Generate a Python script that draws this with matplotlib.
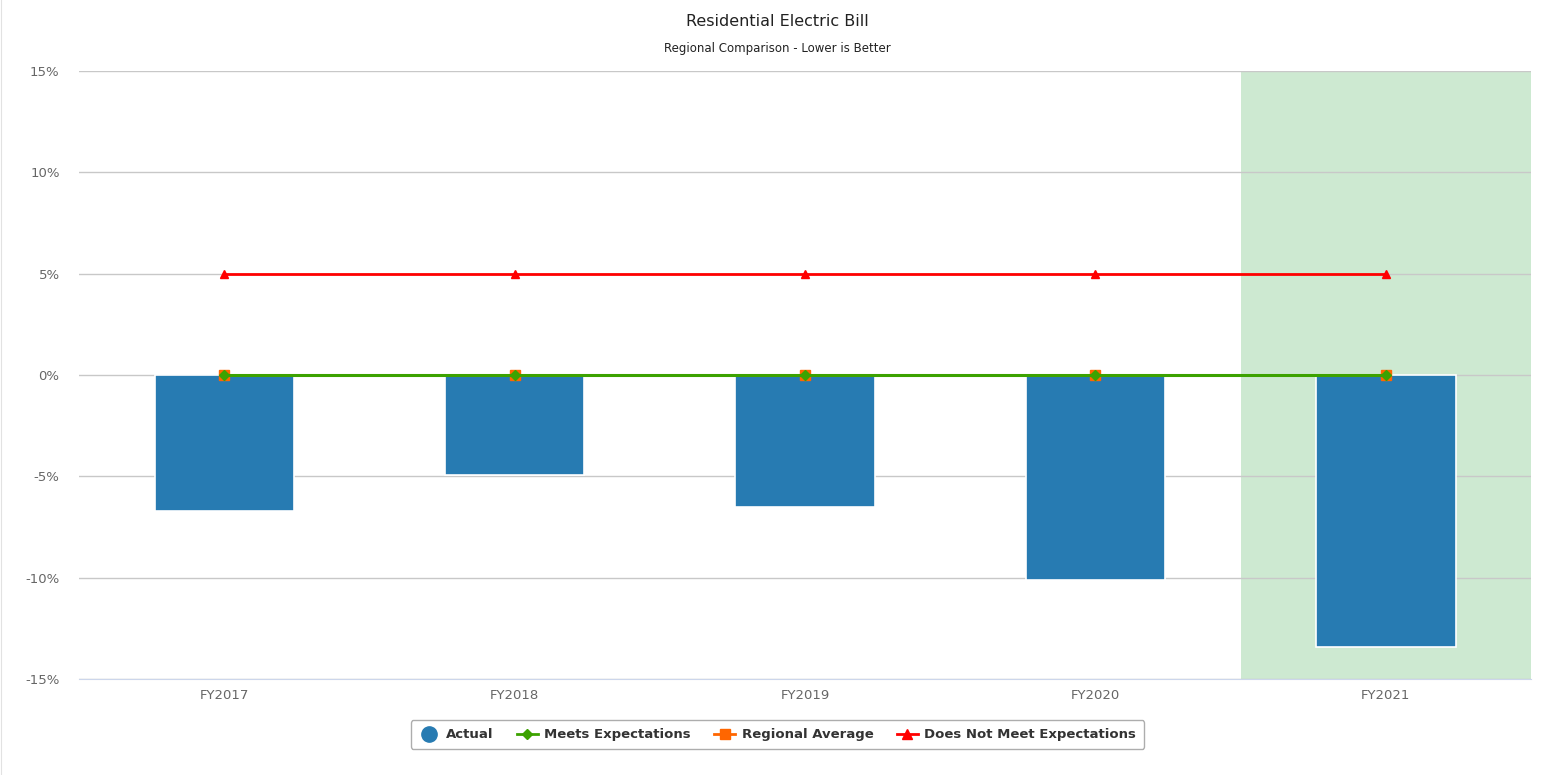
import matplotlib
matplotlib.use("Agg")
import matplotlib.pyplot as plt
from matplotlib.lines import Line2D
from matplotlib.ticker import FuncFormatter

# Fiscal years and percent change vs. the regional average
categories = ["FY2017", "FY2018", "FY2019", "FY2020", "FY2021"]
actual = [-6.7, -4.95, -6.5, -10.1, -13.4]
meets_expectations = [0, 0, 0, 0, 0]
regional_average = [0, 0, 0, 0, 0]
does_not_meet = [5, 5, 5, 5, 5]
highlight_category = "FY2021"
y_ticks = [-15, -10, -5, 0, 5, 10, 15]

plt.rcParams["font.family"] = ["DejaVu Sans"]

fig = plt.figure(figsize=(15.62, 7.75), dpi=100)
ax = fig.add_axes([0.0506, 0.1239, 0.9296, 0.7845])

x = list(range(len(categories)))

# highlighted current year band
hi = categories.index(highlight_category)
ax.axvspan(hi - 0.5, hi + 0.5, color="#cde9d1", zorder=0, lw=0)

ax.bar(x, actual, width=0.48, color="#277bb2", edgecolor="white", linewidth=1.2, zorder=2)

ax.plot(x, regional_average, color="#ff6600", lw=2, marker="s", ms=7, zorder=3)
ax.plot(x, meets_expectations, color="#3ca200", lw=2.2, marker="D", ms=5, zorder=4)
ax.plot(x, does_not_meet, color="#ff0000", lw=2, marker="^", ms=6, zorder=4)

ax.set_xlim(-0.5, len(categories) - 0.5)
ax.set_ylim(-15, 15)
ax.set_yticks(y_ticks)
ax.yaxis.set_major_formatter(FuncFormatter(lambda v, p: f"{int(v)}%"))
ax.set_xticks(x)
ax.set_xticklabels(categories)
ax.grid(axis="y", color="#c8c8c8", lw=1, zorder=1)
ax.set_axisbelow(True)
for side in ["top", "right", "left"]:
    ax.spines[side].set_visible(False)
ax.spines["bottom"].set_color("#ccd6eb")
ax.spines["bottom"].set_zorder(1)
ax.tick_params(axis="both", length=0, colors="#666666", labelsize=9.5)
ax.tick_params(axis="y", pad=14)
ax.tick_params(axis="x", pad=7)

fig.text(0.4977, 0.972, "Residential Electric Bill", ha="center", va="center",
         fontsize=11.5, color="#222222")
fig.text(0.4977, 0.938, "Regional Comparison - Lower is Better", ha="center", va="center",
         fontsize=8.5, color="#222222")

# thin chart border on the left
fig.add_artist(Line2D([0.0009, 0.0009], [0, 1], color="#e2e2e2", lw=0.8,
                      transform=fig.transFigure))

handles = [
    Line2D([], [], color="#277bb2", marker="o", ls="none", ms=11),
    Line2D([], [], color="#3ca200", marker="D", lw=2, ms=5),
    Line2D([], [], color="#ff6600", marker="s", lw=2, ms=7),
    Line2D([], [], color="#ff0000", marker="^", lw=2, ms=7),
]
labels = ["Actual", "Meets Expectations", "Regional Average", "Does Not Meet Expectations"]
leg = fig.legend(handles, labels, loc="center", bbox_to_anchor=(0.4977, 0.052), ncol=4,
                 frameon=True, fancybox=True, edgecolor="#999999", handlelength=1.6,
                 handletextpad=0.5, columnspacing=1.75, borderpad=0.6,
                 prop={"weight": "bold", "size": 9.5})
for t in leg.get_texts():
    t.set_color("#333333")
leg.get_frame().set_linewidth(1)

fig.savefig("out.png", dpi=100, facecolor="white")
